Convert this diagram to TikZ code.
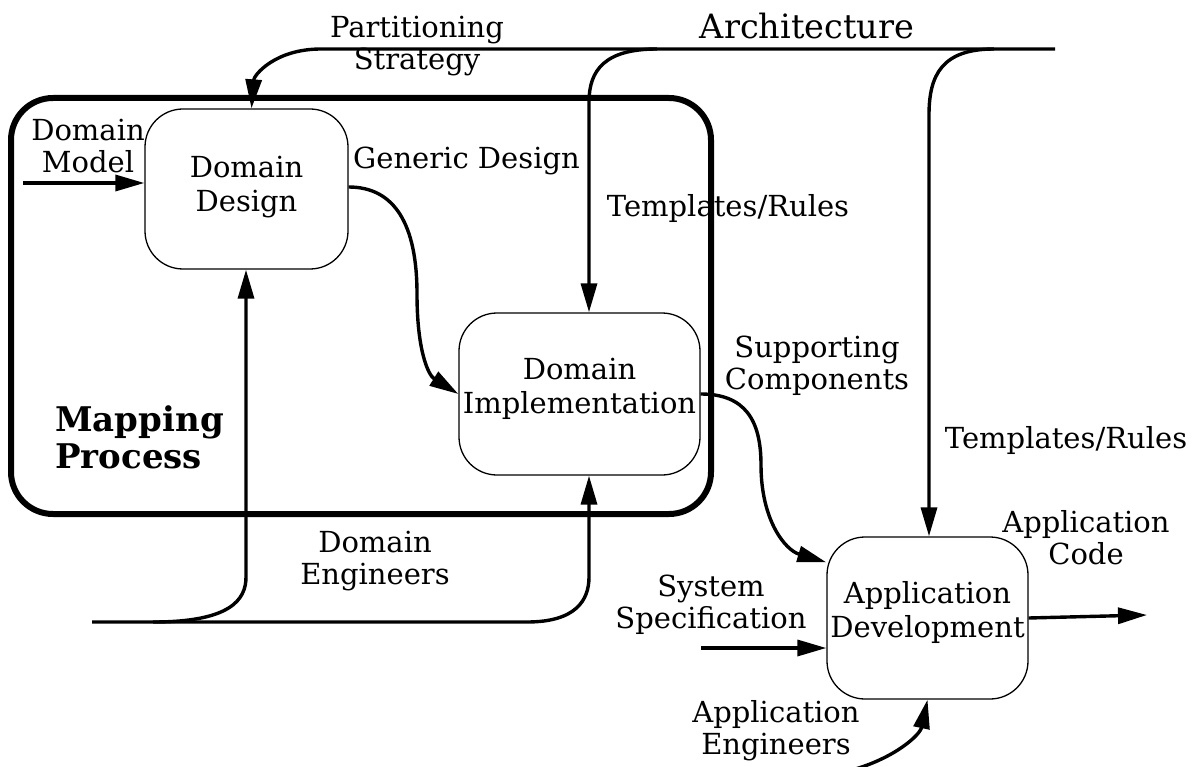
\documentclass[tikz,border=0pt]{standalone}
\usepackage{fontspec}
\setmainfont{DejaVu Serif}
\usetikzlibrary{arrows.meta,positioning}
\newcommand\archy{49}
\newcommand\engy{622}
\tikzset{
    box/.style={draw=black, line width=1.3pt, rounded corners=38pt},
    boxtext/.style={align=center, inner sep=0pt, font=\fontsize{29}{34}\selectfont},
    flow/.style={draw=black, line width=3.4pt, -{Triangle[length=29pt,width=16pt]}},
    lbl/.style={align=center, inner sep=0pt, font=\fontsize{29}{32}\selectfont},
    mapbox/.style={draw=black, line width=6pt, rounded corners=42pt}
}

\begin{document}
\begin{tikzpicture}[x=1pt,y=-1pt]
    \useasboundingbox (0,0) rectangle (1199,767);
    % mapping process frame
    \draw[mapbox] (11,98) rectangle (711,514);
    \node[lbl, align=left, anchor=west, font=\bfseries\fontsize{34}{37}\selectfont] (map) at (55,437) {Mapping\\Process};
    % activities
    \node[box, minimum width=203pt, minimum height=160pt] (dd) at (246.5,189) {};
    \node[boxtext] (ddtxt) at ([yshift=2pt]dd.center) {Domain\\Design};
    \node[box, minimum width=241pt, minimum height=162pt] (di) at (579.5,394) {};
    \node[boxtext] (ditxt) at ([yshift=5pt]di.center) {Domain\\Implementation};
    \node[box, minimum width=201pt, minimum height=162pt] (ad) at (927.5,618) {};
    \node[boxtext] (adtxt) at ([yshift=6pt]ad.center) {Application\\Development};
    % labels
    \node[lbl, font=\fontsize{33.5}{36}\selectfont] (arch) at (807,26) {Architecture};
    \node[lbl] (part) at (417,46) {Partitioning\\Strategy};
    \node[lbl] (dmod) at (88,146) {Domain\\Model};
    \node[lbl, anchor=west] (gen) at (353,161) {Generic Design};
    \node[lbl] (tr1) at (728,209) {Templates/Rules};
    \node[lbl] (sup) at (817,366) {Supporting\\Components};
    \node[lbl] (tr2) at (1066,440) {Templates/Rules};
    \node[lbl] (acode) at (1086,538) {Application\\Code};
    \node[lbl] (sys) at (711,605) {System\\Specification};
    \node[lbl] (deng) at (375,561) {Domain\\Engineers};
    \node[lbl] (aeng) at (776,731) {Application\\Engineers};
    % free ends and bends
    \coordinate (archE) at (1055,\archy);
    \coordinate (archW) at (321,\archy);
    \coordinate (br1) at (657,\archy);
    \coordinate (br2) at (994,\archy);
    \coordinate (tr1v) at (589,102);
    \coordinate (tr2v) at (929,115);
    \coordinate (engW) at (92,\engy);
    \coordinate (engE) at (527,\engy);
    \coordinate (eng1) at (153,\engy);
    \coordinate (eng1v) at (246,577);
    \coordinate (eng2v) at (589,577);
    \coordinate (dmIn) at (23,183);
    \coordinate (ssIn) at (701,648);
    \coordinate (acOut) at (1147,615);
    \coordinate (aeIn) at (852,770);
    % architecture inputs
    \draw[flow] (archE) -- (archW) .. controls (275,\archy) and (254,75) .. ([xshift=5pt]dd.north);
    \draw[flow] (br1) .. controls (605,\archy) and (589,70) .. (tr1v) -- (tr1v |- di.north);
    \draw[flow] (br2) .. controls (942,\archy) and (929,75) .. (tr2v) -- (tr2v |- ad.north);
    % engineers
    \draw[flow] (engW) -- (engE) .. controls (576,\engy) and (589,600) .. (eng2v) -- (eng2v |- di.south);
    \draw[flow] (eng1) .. controls (230,\engy) and (246,600) .. (eng1v) -- (eng1v |- dd.south);
    % products
    \draw[flow] (dmIn) -- (dd.west |- dmIn);
    \draw[flow] ([yshift=2pt]dd.east) .. controls (395,187) and (417,225) .. (417,294)
        .. controls (417,350) and (428,375) .. (di.west);
    \draw[flow] (di.east) .. controls (745,394) and (761,420) .. (761,465)
        .. controls (761,520) and (785,550) .. ([yshift=-26pt]ad.north west);
    \draw[flow] (ad.east) -- (acOut);
    \draw[flow] (ssIn) -- (ad.west |- ssIn);
    \draw[flow] (aeIn) .. controls (895,758) and (920,735) .. (ad.south);
\end{tikzpicture}
\end{document}
